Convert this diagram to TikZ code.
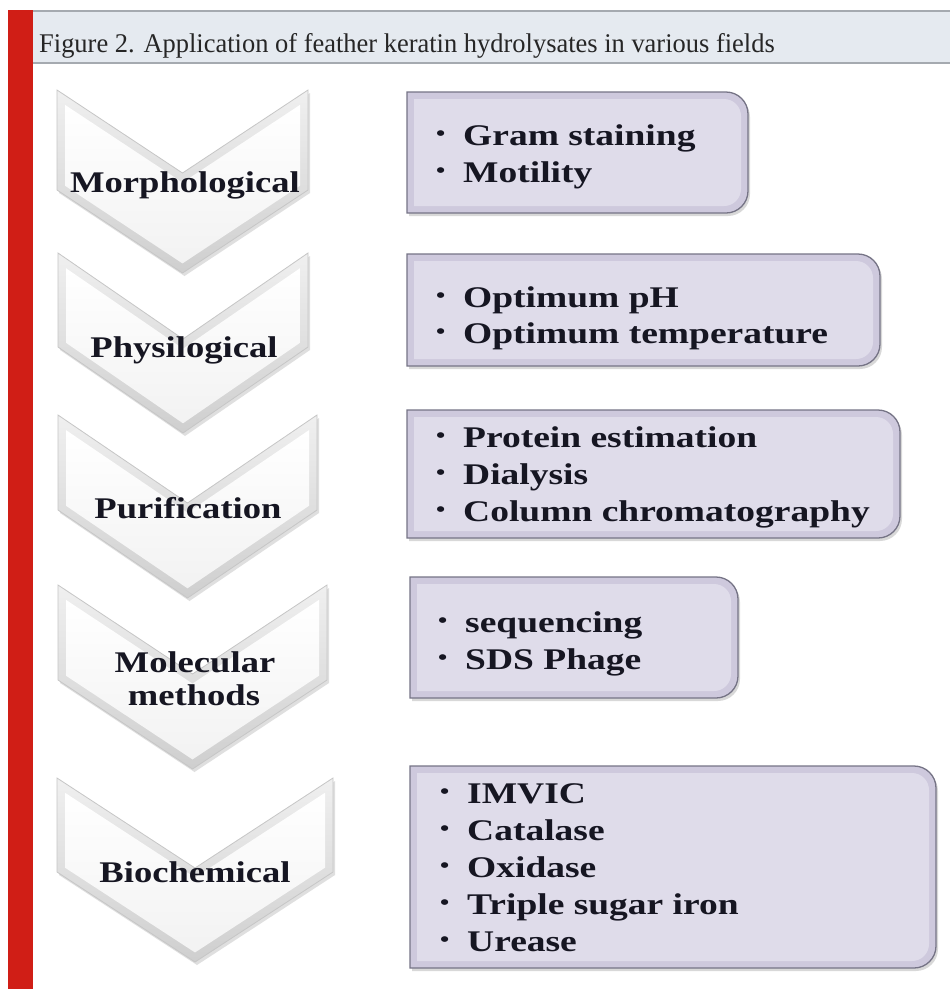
\documentclass[tikz,border=0pt]{standalone}
\usepackage{graphicx}
\usepackage{fontspec}
\setmainfont{Liberation Serif}
\newfontfamily\hdrfont[FakeStretch=0.98]{Liberation Serif}
\newfontfamily\lblfont[FakeStretch=1.22]{Liberation Serif}
\newfontfamily\itmfont[FakeStretch=1.25]{Liberation Serif}
\usetikzlibrary{shadows}
\definecolor{redbar}{RGB}{208,30,22}
\definecolor{hdrband}{RGB}{229,234,240}
\definecolor{hdrline}{RGB}{165,170,176}
\definecolor{boxout}{RGB}{206,201,221}
\definecolor{boxin}{RGB}{223,220,234}
\definecolor{boxedge}{RGB}{118,116,134}
\definecolor{txt}{RGB}{22,22,34}
\newcommand\bul{\makebox[27pt][l]{\raisebox{4.5pt}{\scalebox{0.7}{•}}}}
% chevron: name, xL, xR, yTop, side height, depth
\newcommand\chevron[6]{%
  \pgfmathsetmacro\cxc{(#2+#3)/2}%
  \pgfmathsetmacro\cm{#6/((#3-#2)/2)}%
  \pgfmathsetmacro\cq{sqrt(1+\cm*\cm)}%
  \pgfmathsetmacro\ct{8}%
  \path[chevout] (#2,#4) -- (\cxc,#4+#6) -- (#3,#4) -- (#3,#4+#5) -- (\cxc,#4+#5+#6) -- (#2,#4+#5) -- cycle;
  \path[chevin] (#2+\ct,#4+\cm*\ct+\ct*\cq) -- (\cxc,#4+#6+\ct*\cq) -- (#3-\ct,#4+\cm*\ct+\ct*\cq)
     -- (#3-\ct,#4+#5+\cm*\ct-\ct*\cq) -- (\cxc,#4+#5+#6-\ct*\cq) -- (#2+\ct,#4+#5+\cm*\ct-\ct*\cq) -- cycle;
  \coordinate (#1) at (\cxc,#4+#5/2+#6/2);
}
% box with rounded right corners: xL, yT, xR, yB
\newcommand\listbox[4]{%
  \path[boxstyle] (#1,#2) -- (#3-22,#2) arc[start angle=-90,end angle=0,radius=22]
     -- (#3,#4-22) arc[start angle=0,end angle=90,radius=22] -- (#1,#4) -- cycle;
  \fill[boxin] (#1+7,#2+7) -- (#3-24,#2+7) arc[start angle=-90,end angle=0,radius=17]
     -- (#3-7,#4-24) arc[start angle=0,end angle=90,radius=17] -- (#1+7,#4-7) -- cycle;
}
\begin{document}
\begin{tikzpicture}[x=1pt,y=-1pt,
  chevout/.style={draw=gray!45, line width=0.8pt, top color=gray!12, bottom color=gray!38,
     drop shadow={shadow xshift=2pt, shadow yshift=-3pt, opacity=0.25, fill=gray}},
  chevin/.style={top color=white, bottom color=gray!10},
  boxstyle/.style={fill=boxout, draw=boxedge, line width=1.3pt,
     drop shadow={shadow xshift=2pt, shadow yshift=-3pt, opacity=0.3, fill=gray}},
  lbl/.style={inner sep=0pt, anchor=base, text=txt, font=\lblfont\bfseries\fontsize{30}{33}\selectfont},
  itm/.style={inner sep=0pt, anchor=base west, text=txt, font=\itmfont\bfseries\fontsize{30}{37}\selectfont},
]
\useasboundingbox (0,0) rectangle (950,989);
\fill[white] (0,0) rectangle (950,989);
% header
\fill[hdrband] (33,10) rectangle (950,64);
\draw[hdrline, line width=2.5pt] (33,11) -- (950,11);
\draw[hdrline, line width=2.5pt] (33,63) -- (950,63);
\fill[redbar] (8,10) rectangle (33,989);
\node[inner sep=0pt, anchor=base west, text=black!85,
  font=\hdrfont\fontsize{27}{30}\selectfont] (title) at (39,52)
  {Figure 2. Application of feather keratin hydrolysates in various fields};
% chevrons
\chevron{c1}{57}{308}{90}{100}{83}
\chevron{c2}{58}{308}{253}{94}{86}
\chevron{c3}{58}{317}{415}{95}{88}
\chevron{c4}{58}{327}{585}{95}{89}
\chevron{c5}{57}{333}{778}{94}{90}
\node[lbl] (morph) at (185,192) {Morphological};
\node[lbl] (phys) at (184,357) {Physilogical};
\node[lbl] (puri) at (188,518) {Purification};
\node[lbl] (mol1) at (195,672) {Molecular};
\node[lbl] (mol2) at (194,705) {methods};
\node[lbl] (bioc) at (195,882) {Biochemical};
% boxes
\listbox{407}{92}{748}{213}
\listbox{407}{254}{880}{366}
\listbox{407}{410}{900}{538}
\listbox{410}{577}{738}{698}
\listbox{410}{766}{936}{968}
\node[itm] (b1a) at (436,145) {\bul Gram staining};
\node[itm] (b1b) at (436,182) {\bul Motility};
\node[itm] (b2a) at (436,307) {\bul Optimum pH};
\node[itm] (b2b) at (436,343) {\bul Optimum temperature};
\node[itm] (b3a) at (436,447) {\bul Protein estimation};
\node[itm] (b3b) at (436,484) {\bul Dialysis};
\node[itm] (b3c) at (436,521) {\bul Column chromatography};
\node[itm] (b4a) at (438,632) {\bul sequencing};
\node[itm] (b4b) at (438,669) {\bul SDS Phage};
\node[itm] (b5a) at (440,803) {\bul IMVIC};
\node[itm] (b5b) at (440,840) {\bul Catalase};
\node[itm] (b5c) at (440,877) {\bul Oxidase};
\node[itm] (b5d) at (440,914) {\bul Triple sugar iron};
\node[itm] (b5e) at (440,951) {\bul Urease};
\end{tikzpicture}
\end{document}
